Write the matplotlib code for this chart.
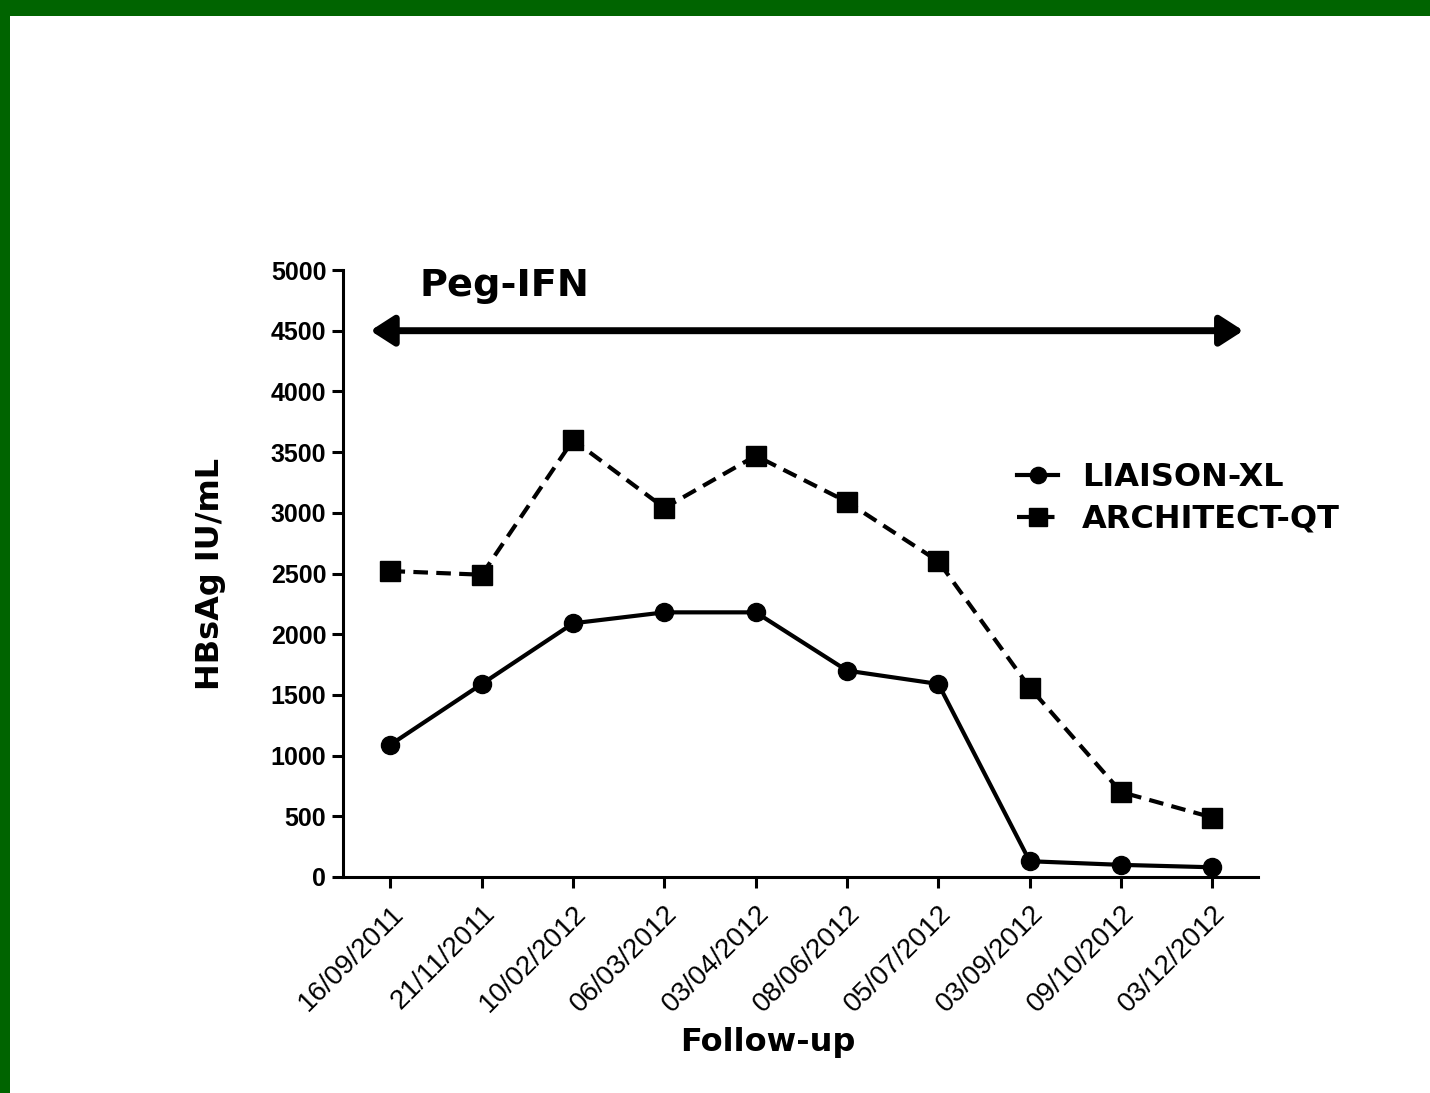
import matplotlib
matplotlib.use("Agg")
import matplotlib.pyplot as plt
from matplotlib.patches import Rectangle

dates = ["16/09/2011", "21/11/2011", "10/02/2012", "06/03/2012", "03/04/2012",
         "08/06/2012", "05/07/2012", "03/09/2012", "09/10/2012", "03/12/2012"]
liaison = [1090, 1590, 2090, 2180, 2180, 1700, 1590, 130, 100, 80]
architect = [2520, 2490, 3600, 3040, 3470, 3090, 2600, 1560, 700, 490]
yticks = [0, 500, 1000, 1500, 2000, 2500, 3000, 3500, 4000, 4500, 5000]

fig = plt.figure(figsize=(14.30, 10.93), dpi=100)
fig.patch.set_facecolor("white")
# green frame
fig.patches.append(Rectangle((0, 1 - 16 / 1093), 1, 16 / 1093, transform=fig.transFigure,
                             facecolor="#006400", edgecolor="none", zorder=0))
fig.patches.append(Rectangle((0, 0), 10 / 1430, 1, transform=fig.transFigure,
                             facecolor="#006400", edgecolor="none", zorder=0))

ax = fig.add_axes([343 / 1430, 1 - 877 / 1093, (1258 - 343) / 1430, (877 - 270) / 1093])
x = list(range(len(dates)))
ax.plot(x, liaison, color="black", lw=3, marker="o", markersize=13, label="LIAISON-XL",
        clip_on=False, zorder=3)
ax.plot(x, architect, color="black", lw=3, ls=(0, (3.5, 2)), marker="s", markersize=14,
        label="ARCHITECT-QT", clip_on=False, zorder=3)

ax.set_xlim(-0.52, 9.5)
ax.set_ylim(0, 5000)
ax.set_yticks(yticks)
ax.set_yticklabels([str(v) for v in yticks], fontfamily="Liberation Sans",
                   fontweight="bold", fontsize=18)
ax.set_xticks(x)
ax.set_xticklabels(dates, rotation=45, ha="right", rotation_mode="anchor",
                   fontfamily="Liberation Sans", fontsize=20)
for s in ["top", "right"]:
    ax.spines[s].set_visible(False)
for s in ["left", "bottom"]:
    ax.spines[s].set_linewidth(2.2)
ax.tick_params(axis="both", width=2.2, length=8, direction="out", pad=4)
ax.tick_params(axis="x", pad=9)

ax.set_ylabel("HBsAg IU/mL", fontfamily="DejaVu Sans", fontweight="bold", fontsize=23)
ax.yaxis.set_label_coords(-0.145, 0.50)
ax.set_xlabel("Follow-up", fontfamily="DejaVu Sans", fontweight="bold", fontsize=23)
ax.xaxis.set_label_coords((768 - 343) / (1258 - 343), -(1042 - 877) / (877 - 270))
ax.xaxis.label.set_va("center")
ax.yaxis.label.set_va("center")

# Peg-IFN arrow
ax.annotate("", xy=(9.34, 4500), xytext=(-0.22, 4500),
            arrowprops=dict(arrowstyle="<|-|>,head_length=0.7,head_width=0.45",
                            lw=5, color="black", shrinkA=0, shrinkB=0,
                            mutation_scale=20))
ax.text(0.32, 4870, "Peg-IFN", fontfamily="DejaVu Sans", fontweight="bold",
        fontsize=27.5, ha="left", va="center")

leg = ax.legend(loc="upper left", bbox_to_anchor=(988 / 1430, 1 - 433 / 1093),
                bbox_transform=fig.transFigure, frameon=False,
                prop={"family": "DejaVu Sans", "weight": "bold", "size": 23},
                handlelength=1.3, handletextpad=0.75, labelspacing=0.35, markerscale=0.9)

fig.savefig("out.png", dpi=100, facecolor="white")
